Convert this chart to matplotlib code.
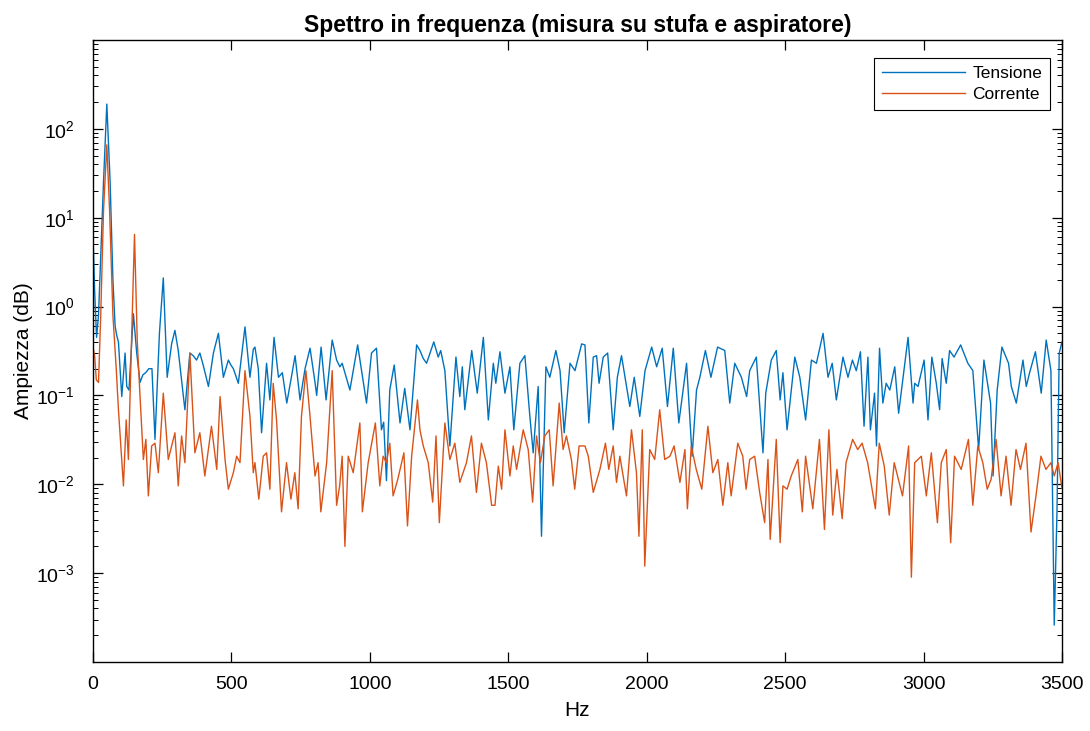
import matplotlib
matplotlib.use("Agg")
import matplotlib.pyplot as plt
from matplotlib.ticker import LogLocator, NullFormatter

plt.rcParams['font.family'] = ['Liberation Sans', 'DejaVu Sans']
plt.rcParams['mathtext.default'] = 'regular'

title = "Spettro in frequenza (misura su stufa e aspiratore)"
xlabel = "Hz"
ylabel = "Ampiezza (dB)"
labels = ["Tensione", "Corrente"]

tens_hz = [0, 6, 13, 20, 27, 38, 50, 62, 72, 80, 86, 92, 104, 116, 122, 130, 146, 158, 170, 180,
           190, 202, 213, 224, 240, 254, 268, 284, 296, 308, 320, 332, 350, 362, 374, 386, 398, 417,
           435, 453, 471, 489, 498, 507, 525, 549, 567, 579,
           585, 597, 609, 627, 639, 654, 670, 684, 700, 715, 730, 748, 766, 784, 802, 808, 824, 842,
           864, 880, 892, 900, 928, 956, 970, 988, 1006, 1024, 1042, 1050, 1060, 1072, 1088, 1109,
           1126, 1145, 1169,
           1181, 1193, 1205, 1231, 1247, 1256, 1271, 1289, 1311, 1325, 1334, 1343, 1368, 1388, 1410,
           1428, 1446, 1455, 1470, 1488, 1506, 1520, 1542, 1560, 1578, 1590, 1608, 1620, 1636, 1650,
           1672, 1687, 1702, 1723, 1741, 1765,
           1777, 1791, 1807, 1819, 1828, 1843, 1859, 1879, 1894, 1909, 1939, 1955, 1975, 1994, 2018,
           2036, 2056, 2075, 2096, 2116, 2144, 2164, 2180, 2192, 2212, 2232, 2256, 2282, 2300, 2318,
           2342, 2361,
           2372, 2396, 2420, 2430, 2450, 2468, 2482, 2492, 2507, 2535, 2553, 2574, 2595, 2613, 2637,
           2655, 2670, 2685, 2709, 2727, 2743, 2757, 2772, 2785, 2799, 2808, 2823, 2830, 2841, 2853,
           2865, 2878, 2896, 2910, 2944, 2962,
           2968, 2980, 3002, 3016, 3030, 3046, 3058, 3067, 3082, 3094, 3110, 3134, 3160, 3178, 3199,
           3218, 3235, 3242, 3251, 3266, 3283, 3307, 3317, 3335, 3359, 3371, 3383, 3404, 3425, 3443,
           3460, 3472, 3482, 3490, 3500]
tens_val = [6.5, 1.5, 0.45, 0.8, 3.0, 25, 190, 25, 2.0, 0.6, 0.47, 0.4, 0.097, 0.30, 0.126, 0.115, 0.83, 0.3, 0.14, 0.17,
            0.18, 0.2, 0.2, 0.032, 0.5, 2.1, 0.16, 0.38, 0.54, 0.32, 0.15, 0.069, 0.30, 0.28, 0.25, 0.3, 0.22, 0.126,
            0.30, 0.5, 0.16, 0.25, 0.22, 0.2, 0.137, 0.59, 0.16, 0.33,
            0.35, 0.2, 0.038, 0.23, 0.089, 0.45, 0.16, 0.18, 0.082, 0.15, 0.28, 0.089, 0.2, 0.34, 0.14, 0.1, 0.35, 0.089,
            0.42, 0.25, 0.21, 0.23, 0.115, 0.37, 0.19, 0.082, 0.30, 0.34, 0.041, 0.05, 0.011, 0.115, 0.22, 0.049,
            0.12, 0.041, 0.37,
            0.32, 0.26, 0.23, 0.40, 0.27, 0.32, 0.19, 0.027, 0.27, 0.097, 0.21, 0.069, 0.32, 0.106, 0.45,
            0.053, 0.23, 0.137, 0.31, 0.106, 0.21, 0.041, 0.23, 0.28, 0.058, 0.0226, 0.126, 0.0026, 0.21, 0.16,
            0.32, 0.19, 0.038, 0.23, 0.19, 0.38,
            0.37, 0.049, 0.27, 0.28, 0.137, 0.27, 0.30, 0.041, 0.16, 0.28, 0.075, 0.16, 0.058, 0.19, 0.35,
            0.21, 0.34, 0.075, 0.34, 0.049, 0.23, 0.0207, 0.115, 0.16, 0.32, 0.16, 0.35, 0.32, 0.082, 0.23,
            0.16, 0.097,
            0.19, 0.27, 0.0226, 0.106, 0.25, 0.32, 0.089, 0.18, 0.041, 0.27, 0.16, 0.053, 0.25, 0.23, 0.50,
            0.16, 0.23, 0.089, 0.27, 0.16, 0.25, 0.19, 0.31, 0.045, 0.27, 0.041, 0.106, 0.027, 0.34, 0.082,
            0.137, 0.115, 0.21, 0.063, 0.45, 0.082,
            0.137, 0.126, 0.25, 0.053, 0.27, 0.137, 0.069, 0.26, 0.137, 0.32, 0.27, 0.37, 0.23, 0.19, 0.0246,
            0.25, 0.115, 0.082, 0.0124, 0.115, 0.35, 0.23, 0.126, 0.082, 0.25, 0.126, 0.18, 0.31, 0.106, 0.42,
            0.19, 0.00026, 0.005, 0.3, 0.4]

corr_hz = [0, 6, 12, 20, 28, 38, 50, 60, 72, 84, 92, 110, 120, 128, 138, 150, 160, 170, 182, 191,
           200, 212, 224, 236, 254, 272, 284, 296, 308, 320, 332, 350, 368, 386, 404, 428, 447, 459,
           477, 489, 507, 519, 531, 549, 567, 579,
           585, 599, 615, 627, 639, 651, 663, 681, 699, 715, 729, 741, 753, 769, 783, 802, 813, 823,
           844, 864, 880, 891, 900, 910, 922, 940, 964, 973, 994, 1020, 1036, 1048, 1060, 1072, 1084,
           1101, 1123, 1136, 1151, 1172,
           1181, 1193, 1211, 1227, 1239, 1251, 1271, 1289, 1307, 1325, 1349, 1367, 1385, 1403, 1421,
           1440, 1452, 1464, 1476, 1488, 1506, 1518, 1530, 1554, 1572, 1588, 1602, 1616, 1632, 1648,
           1662, 1684, 1698, 1710, 1728, 1740, 1756, 1770,
           1777, 1789, 1807, 1831, 1851, 1863, 1879, 1891, 1903, 1927, 1945, 1963, 1972, 1984, 1993,
           2011, 2029, 2047, 2065, 2084, 2099, 2120, 2138, 2147, 2161, 2179, 2199, 2221, 2239, 2257,
           2275, 2293, 2305, 2329, 2347, 2359,
           2372, 2390, 2408, 2426, 2438, 2446, 2468, 2482, 2492, 2507, 2522, 2546, 2562, 2574, 2600,
           2624, 2642, 2658, 2672, 2687, 2706, 2720, 2744, 2762, 2778, 2798, 2826, 2840, 2858, 2876,
           2894, 2924, 2946, 2956,
           2968, 2992, 3010, 3028, 3050, 3064, 3082, 3098, 3112, 3136, 3162, 3178, 3196, 3214, 3230,
           3244, 3262, 3280, 3298, 3316, 3334, 3350, 3370, 3388, 3406, 3424, 3442, 3460, 3472, 3486,
           3500]
corr_val = [0.35, 0.28, 0.15, 0.14, 0.8, 12, 66, 12, 0.8, 0.2, 0.069, 0.0096, 0.053, 0.019, 0.3, 6.5, 0.4, 0.097, 0.019, 0.032,
            0.0074, 0.027, 0.029, 0.0135, 0.106, 0.019, 0.027, 0.038, 0.0096, 0.035, 0.0175, 0.30, 0.0226, 0.038, 0.0124, 0.045, 0.0147, 0.097,
            0.019, 0.0088, 0.0135, 0.0207, 0.0175, 0.19, 0.058, 0.0135,
            0.0175, 0.0068, 0.0207, 0.0226, 0.0088, 0.137, 0.053, 0.0049, 0.0175, 0.0068, 0.0135, 0.0053, 0.058, 0.19, 0.063, 0.0124, 0.0175, 0.0049,
            0.0175, 0.19, 0.0058, 0.0096, 0.0207, 0.0020, 0.0207, 0.0135, 0.049, 0.0049, 0.0175, 0.049, 0.0096, 0.0207, 0.0175, 0.029, 0.0074,
            0.0114, 0.0226, 0.0034, 0.0207, 0.089,
            0.041, 0.027, 0.0175, 0.0063, 0.035, 0.0037, 0.049, 0.019, 0.029, 0.0105, 0.0175, 0.035, 0.0081, 0.029, 0.0175,
            0.0058, 0.0058, 0.016, 0.0088, 0.041, 0.0124, 0.027, 0.0147, 0.041, 0.0246, 0.0063, 0.035, 0.0175, 0.035, 0.041,
            0.0096, 0.082, 0.0246, 0.035, 0.019, 0.0088, 0.027, 0.027,
            0.027, 0.0207, 0.0081, 0.0147, 0.029, 0.0147, 0.027, 0.0105, 0.0207, 0.0074, 0.041, 0.0135, 0.0026, 0.041, 0.0012,
            0.0246, 0.019, 0.069, 0.019, 0.0207, 0.027, 0.0105, 0.0246, 0.0053, 0.027, 0.0147, 0.0088, 0.045, 0.0135, 0.019,
            0.0058, 0.0175, 0.0074, 0.029, 0.0207, 0.0088,
            0.019, 0.0207, 0.0081, 0.0037, 0.019, 0.0024, 0.032, 0.0022, 0.0096, 0.0088, 0.0124, 0.019, 0.0049, 0.0207, 0.0053,
            0.032, 0.0031, 0.041, 0.0045, 0.0147, 0.0041, 0.0175, 0.032, 0.0246, 0.029, 0.0175, 0.0053, 0.029, 0.016, 0.0045,
            0.0175, 0.0074, 0.027, 0.0009,
            0.0175, 0.0207, 0.0074, 0.0226, 0.0037, 0.0175, 0.0246, 0.0022, 0.0207, 0.0147, 0.032, 0.0058, 0.027, 0.0175, 0.0088,
            0.0114, 0.032, 0.0074, 0.0207, 0.0058, 0.0246, 0.0147, 0.029, 0.0029, 0.0074, 0.0207, 0.0147, 0.0175, 0.0124, 0.0175,
            0.009]

xticks = [0, 500, 1000, 1500, 2000, 2500, 3000, 3500]
yticks = [1e-3, 1e-2, 1e-1, 1e0, 1e1, 1e2]

fig = plt.figure(figsize=(10.9, 7.31), dpi=100)
ax = fig.add_axes([0.0853, 0.0944, 0.8890, 0.8509])
ax.plot(tens_hz, tens_val, color='#0072BD', lw=1.0, label=labels[0])
ax.plot(corr_hz, corr_val, color='#D95319', lw=1.0, label=labels[1])
ax.set_yscale('log')
ax.set_xlim(0, 3500)
ax.set_ylim(1e-4, 1e3)
ax.set_xticks(xticks)
ax.set_xticklabels([str(t) for t in xticks])
ax.set_yticks(yticks)
ax.yaxis.set_minor_locator(LogLocator(base=10, subs=range(2, 10), numticks=20))
ax.yaxis.set_minor_formatter(NullFormatter())
ax.tick_params(which='both', direction='in', top=True, right=True, labelsize=14)
ax.tick_params(which='major', length=7, width=0.9)
ax.tick_params(which='minor', length=3.5, width=0.7)
ax.tick_params(axis='x', which='major', pad=10)
ax.tick_params(axis='y', which='major', pad=13)
for s in ax.spines.values():
    s.set_linewidth(1.0)
ax.set_title(title, fontsize=16.5, fontweight='bold', pad=6)
ax.set_xlabel(xlabel, fontsize=15, labelpad=6)
ax.set_ylabel(ylabel, fontsize=15, labelpad=2)
leg = ax.legend(loc='upper right', fontsize=12.5, frameon=True, fancybox=False,
                edgecolor='black', framealpha=1, borderpad=0.45, handlelength=4.8,
                handletextpad=0.4, labelspacing=0.35, borderaxespad=0,
                bbox_to_anchor=(0.9876, 0.971))
leg.get_frame().set_linewidth(0.8)
fig.savefig('out.png', dpi=100)
